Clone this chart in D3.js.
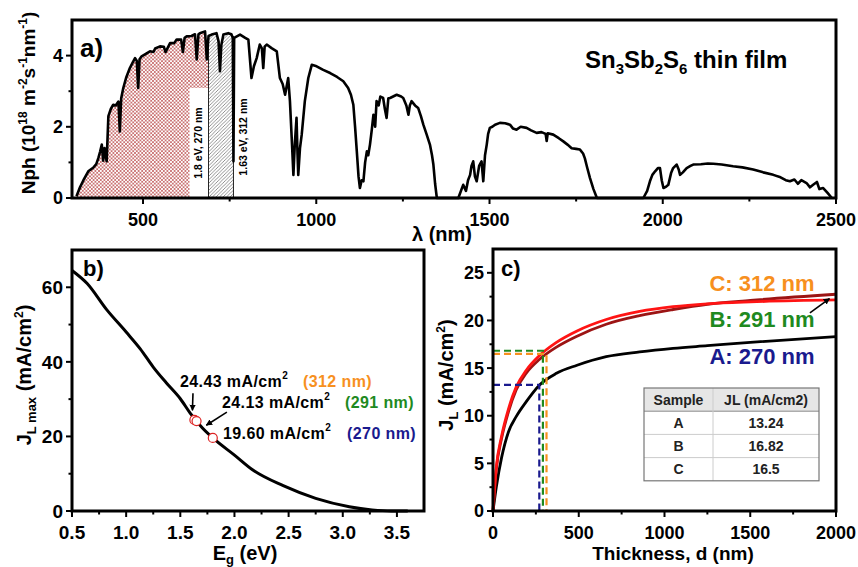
<!DOCTYPE html>
<html>
<head>
<meta charset="utf-8">
<script src="https://cdn.jsdelivr.net/npm/d3@7"></script>
<style>
  body { margin: 0; background: #fff; }
  text { font-family: Arial, "Liberation Sans", sans-serif; font-weight: bold; }
</style>
</head>
<body>
<svg id="chart" width="858" height="567"></svg>
<script>
// a) photon flux of the solar spectrum
const wavelength = [308, 318, 328, 342, 356, 365, 371, 376, 381, 385, 389, 395, 400, 407, 414, 421, 429, 433, 437, 443,
  452, 462, 470, 477, 482, 486, 490, 496, 508, 520, 530, 535, 549, 560, 565, 578, 590, 597, 610, 615,
  620, 626, 640, 650, 655, 660, 664, 679, 684, 689, 698, 712, 718, 722, 726, 732, 746, 755, 759, 761,
  763, 780, 795, 804, 813, 820, 828, 837, 843, 847, 851, 857, 871, 886, 895, 903, 910, 919, 924, 930,
  934, 938, 943, 946, 948, 953, 958, 967, 977, 987, 1001, 1020, 1040, 1060, 1078, 1092, 1100, 1107, 1112, 1117,
  1122, 1126, 1131, 1136, 1141, 1146, 1150, 1155, 1160, 1165, 1170, 1174, 1180, 1185, 1193, 1198, 1203, 1208, 1213, 1232,
  1245, 1251, 1260, 1266, 1270, 1275, 1285, 1294, 1302, 1309, 1318, 1328, 1334, 1338, 1343, 1348, 1410, 1424, 1432, 1438,
  1444, 1448, 1453, 1458, 1463, 1470, 1477, 1482, 1487, 1492, 1496, 1501, 1508, 1516, 1530, 1545, 1559, 1568, 1578, 1590,
  1607, 1620, 1636, 1650, 1662, 1665, 1668, 1684, 1700, 1713, 1725, 1737, 1750, 1761, 1770, 1775, 1782, 1790, 1800, 1810,
  1944, 1955, 1963, 1970, 1978, 1986, 1992, 1997, 2002, 2010, 2016, 2024, 2030, 2040, 2046, 2050, 2058, 2069, 2080, 2088,
  2110, 2130, 2146, 2170, 2203, 2230, 2261, 2290, 2319, 2340, 2355, 2367, 2380, 2390, 2400, 2415, 2425, 2434, 2445, 2452,
  2463, 2475, 2488];
const nph = [0.05, 0.3, 0.5, 0.75, 0.85, 0.95, 1.12, 1.3, 1.5, 1.05, 1.4, 1.03, 2.3, 2.5, 2.62, 2.6, 2.71, 1.87, 2.8, 3.09,
  3.4, 3.65, 3.8, 3.93, 3.85, 3.09, 3.9, 3.98, 4.05, 4.12, 4.1, 4.2, 4.26, 4.25, 4.1, 4.35, 4.35, 4.45, 4.45, 4.1,
  4.5, 4.54, 4.55, 4.6, 3.89, 4.6, 4.63, 4.68, 3.89, 4.55, 4.59, 4.63, 4.4, 3.56, 4.3, 4.59, 4.63, 4.6, 4.5, 1.03,
  4.5, 4.59, 4.5, 4.45, 3.37, 3.7, 3.93, 4.31, 4.2, 3.65, 4.25, 4.31, 4.21, 4.12, 3.37, 3.2, 2.9, 3.37, 2.72, 1.5,
  0.65, 1.5, 2.25, 1.2, 0.65, 1.4, 1.78, 2.72, 3.37, 3.74, 3.7, 3.6, 3.51, 3.4, 3.28, 3.09, 2.9, 2.62, 2.0, 1.31,
  0.6, 0.28, 0.5, 0.47, 1.0, 1.31, 1.2, 1.5, 1.9, 2.34, 2.0, 2.72, 2.6, 2.85, 2.81, 2.5, 2.25, 2.8, 2.81, 2.9,
  2.85, 2.81, 2.6, 2.34, 2.6, 2.72, 2.6, 2.53, 2.3, 2.06, 1.8, 1.5, 1.2, 0.94, 0.4, 0, 0, 0.37, 0.2, 0.5,
  0.65, 0.9, 1.03, 0.6, 0.47, 0.9, 1.03, 0.47, 1.2, 1.5, 1.8, 1.97, 2.0, 2.06, 2.11, 2.1, 2.06, 1.95, 1.92, 2.0,
  1.97, 1.9, 1.83, 1.85, 1.8, 1.6, 1.82, 1.78, 1.68, 1.59, 1.5, 1.4, 1.38, 1.36, 1.25, 1.12, 0.85, 0.56, 0.25, 0,
  0, 0.2, 0.47, 0.65, 0.75, 0.84, 0.84, 0.5, 0.28, 0.32, 0.37, 0.7, 0.84, 0.94, 0.8, 0.65, 0.72, 0.84, 0.9, 0.94,
  0.95, 0.97, 0.96, 0.94, 0.89, 0.86, 0.8, 0.72, 0.65, 0.58, 0.5, 0.47, 0.52, 0.4, 0.5, 0.42, 0.3, 0.37, 0.45, 0.25,
  0.28, 0.15, 0];
const edge270 = 689;   // 1.8 eV
const edge312 = 761;   // 1.63 eV

// b) maximum current vs band gap
const eg = [0.5, 0.64, 0.82, 1.0, 1.13, 1.25, 1.37, 1.5, 1.6, 1.7, 1.8, 2.0, 2.17, 2.45, 2.75, 3.06, 3.27, 3.45, 3.6];
const jmax = [64.5, 61.0, 54.0, 48.0, 43.5, 38.6, 34.4, 30.1, 25.9, 22.4, 19.6, 15.0, 11.0, 6.8, 3.4, 1.16, 0.3, 0, 0];
const markEg = [1.63, 1.65, 1.8];
const markJ = [24.43, 24.13, 19.6];
const markText = ['24.43 mA/cm', '24.13 mA/cm', '19.60 mA/cm'];
const markNm = ['(312 nm)', '(291 nm)', '(270 nm)'];

// c) JL vs thickness
const thickness = [0, 20, 50, 90, 135, 195, 270, 370, 490, 660, 855, 1050, 1250, 1500, 2000];
const jlA = [0, 2.6, 5.6, 8.3, 9.9, 11.5, 13.2, 14.45, 15.3, 16.2, 16.7, 17.07, 17.35, 17.7, 18.3];
const jlB = [0, 4.5, 7.6, 10.4, 12.7, 14.5, 15.9, 17.2, 18.35, 19.6, 20.5, 21.15, 21.7, 22.1, 22.75];
const jlC = [0, 4.7, 7.85, 10.7, 13.0, 14.8, 16.3, 17.7, 18.9, 20.1, 20.95, 21.45, 21.75, 21.95, 22.15];
const samples = ['A', 'B', 'C'];
const sampleNm = [270, 291, 312];
const sampleJL = [13.24, 16.82, 16.5];
const sampleLabel = ['A: 270 nm', 'B: 291 nm', 'C: 312 nm'];

const orange = '#f7901e', green = '#1f8a1f', navy = '#1a1a8e';
const sampleColor = [navy, green, orange];

const svg = d3.select('#chart');
const defs = svg.append('defs');

const cross = defs.append('pattern').attr('id', 'cross')
  .attr('patternUnits', 'userSpaceOnUse').attr('width', 3.6).attr('height', 3.6);
cross.append('path').attr('d', 'M0,0L3.6,3.6M3.6,0L0,3.6').attr('stroke', '#b43a3a').attr('stroke-width', 0.65);

const diag = defs.append('pattern').attr('id', 'diag')
  .attr('patternUnits', 'userSpaceOnUse').attr('width', 3.5).attr('height', 3.5);
diag.append('path').attr('d', 'M0,3.5L3.5,0M-1,1L1,-1M2.5,4.5L4.5,2.5').attr('stroke', '#777').attr('stroke-width', 0.8);

defs.append('marker').attr('id', 'arrow').attr('viewBox', '0 0 10 10')
  .attr('refX', 9).attr('refY', 5).attr('markerWidth', 4).attr('markerHeight', 4)
  .attr('orient', 'auto').append('path').attr('d', 'M0,0L10,5L0,10z').attr('fill', '#000');

// frame with outward ticks on bottom and left
function frame(x, y, xMajor, xMinor, yMajor, yMinor, fx, fy, fs) {
  const [x0, x1] = x.range(), [y0, y1] = y.range();
  const g = svg.append('g');
  g.selectAll('.xt').data(xMajor.concat(xMinor)).enter().append('line')
    .attr('x1', d => x(d)).attr('x2', d => x(d)).attr('y1', y0)
    .attr('y2', d => y0 + (xMajor.includes(d) ? 6 : 3.5)).attr('stroke', '#000').attr('stroke-width', 2);
  g.selectAll('.yt').data(yMajor.concat(yMinor)).enter().append('line')
    .attr('y1', d => y(d)).attr('y2', d => y(d)).attr('x1', x0)
    .attr('x2', d => x0 - (yMajor.includes(d) ? 6 : 3.5)).attr('stroke', '#000').attr('stroke-width', 2);
  g.selectAll('.xl').data(xMajor).enter().append('text')
    .attr('x', d => x(d)).attr('y', y0 + 28).attr('text-anchor', 'middle')
    .attr('font-size', fs).text(fx);
  g.selectAll('.yl').data(yMajor).enter().append('text')
    .attr('x', x0 - 9).attr('y', d => y(d) + fs * 0.36).attr('text-anchor', 'end')
    .attr('font-size', fs).text(fy);
  g.append('rect').attr('x', x0).attr('y', y1).attr('width', x1 - x0).attr('height', y0 - y1)
    .attr('fill', 'none').attr('stroke', '#000').attr('stroke-width', 3);
}

function rich(sel, parts) {
  parts.forEach(p => {
    const t = sel.append('tspan').text(p[0]);
    if (p[1]) t.attr('font-size', p[1]);
    if (p[2]) t.attr('dy', p[2]);
  });
}

// ---------- panel a ----------
const xA = d3.scaleLinear().domain([295, 2500]).range([72, 836]);
const yA = d3.scaleLinear().domain([0, 5]).range([198, 20]);
const spec = wavelength.map((w, i) => ({ w, v: nph[i] }));
const areaA = d3.area().x(d => xA(d.w)).y0(yA(0)).y1(d => yA(d.v));

defs.append('clipPath').attr('id', 'clipRed').append('rect')
  .attr('x', xA(295)).attr('y', yA(5)).attr('width', xA(edge270) - xA(295)).attr('height', yA(0) - yA(5));
defs.append('clipPath').attr('id', 'clipGrey').append('rect')
  .attr('x', xA(edge270)).attr('y', yA(5)).attr('width', xA(edge312) - xA(edge270)).attr('height', yA(0) - yA(5));

svg.append('path').datum(spec).attr('d', areaA).attr('fill', 'url(#cross)').attr('clip-path', 'url(#clipRed)');
svg.append('path').datum(spec).attr('d', areaA).attr('fill', 'url(#diag)').attr('clip-path', 'url(#clipGrey)');

[edge270, edge312].forEach(e => {
  svg.append('line').attr('x1', xA(e)).attr('x2', xA(e)).attr('y1', yA(0)).attr('y2', yA(4.55))
    .attr('stroke', '#222').attr('stroke-width', 1);
});

svg.append('rect').attr('x', xA(edge270) - 19).attr('y', 88).attr('width', 18.5).attr('height', yA(0) - 89)
  .attr('fill', '#fff');
svg.append('text').attr('transform', `translate(${xA(edge270) - 6.5},143) rotate(-90)`)
  .attr('text-anchor', 'middle').attr('font-size', 10.5).attr('font-weight', 'normal')
  .text('1.8 eV, 270 nm');
svg.append('text').attr('transform', `translate(${xA(edge312) + 13.5},137) rotate(-90)`)
  .attr('text-anchor', 'middle').attr('font-size', 10.5).attr('font-weight', 'normal')
  .text('1.63 eV, 312 nm');

svg.append('path').datum(spec)
  .attr('d', d3.line().x(d => xA(d.w)).y(d => yA(d.v)))
  .attr('fill', 'none').attr('stroke', '#000').attr('stroke-width', 2.6).attr('stroke-linejoin', 'round');

frame(xA, yA, [500, 1000, 1500, 2000, 2500], [750, 1250, 1750, 2250], [0, 2, 4], [1, 3],
  d => d, d => d, 18);

svg.append('text').attr('x', 80).attr('y', 57).attr('font-size', 26).text('a)');
rich(svg.append('text').attr('x', 585).attr('y', 68).attr('font-size', 24),
  [['Sn'], ['3', 15, 6], ['Sb', null, -6], ['2', 15, 6], ['S', null, -6], ['6', 15, 6], [' thin film', null, -6]]);
rich(svg.append('text').attr('transform', 'translate(35,103) rotate(-90)').attr('text-anchor', 'middle').attr('font-size', 19),
  [['Nph (10'], ['18', 12, -8], [' m', null, 8], ['-2', 12, -8], ['s', null, 8], ['-1', 12, -8], ['nm', null, 8], ['-1', 12, -8], [')', null, 8]]);
svg.append('text').attr('x', 412).attr('y', 241).attr('font-size', 20).text('λ (nm)');

// ---------- panel b ----------
const xB = d3.scaleLinear().domain([0.5, 3.75]).range([72, 424]);
const yB = d3.scaleLinear().domain([0, 70]).range([511, 250]);

svg.append('path').datum(eg.map((e, i) => [e, jmax[i]]))
  .attr('d', d3.line().x(d => xB(d[0])).y(d => yB(d[1])).curve(d3.curveMonotoneX))
  .attr('fill', 'none').attr('stroke', '#000').attr('stroke-width', 3);

svg.selectAll('.mk').data(markEg).enter().append('circle')
  .attr('cx', d => xB(d)).attr('cy', (d, i) => yB(markJ[i])).attr('r', 4.5)
  .attr('fill', '#fff').attr('stroke', '#d22').attr('stroke-width', 1.2);

// label anchors in data space: [eV, mA/cm2] for text start, second column start
const markPos = [[1.497, 33.3, 2.633], [1.885, 27.6, 3.02], [1.894, 19.3, 3.04]];
markPos.forEach((p, i) => {
  rich(svg.append('text').attr('x', xB(p[0])).attr('y', yB(p[1])).attr('font-size', 16).attr('letter-spacing', 0.4),
    [[markText[i]], ['2', 10, -8]]);
  svg.append('text').attr('x', xB(p[2])).attr('y', yB(p[1])).attr('font-size', 16).attr('letter-spacing', 0.4)
    .attr('fill', sampleColor[2 - i]).text(markNm[i]);
});
const arrowsB = [[[1.617, 31.6], [1.612, 27.0]], [[1.93, 26.5], [1.74, 23.0]]];
arrowsB.forEach(a => {
  svg.append('line').attr('x1', xB(a[0][0])).attr('y1', yB(a[0][1]))
    .attr('x2', xB(a[1][0])).attr('y2', yB(a[1][1]))
    .attr('stroke', '#000').attr('stroke-width', 1.6).attr('marker-end', 'url(#arrow)');
});

frame(xB, yB, [0.5, 1, 1.5, 2, 2.5, 3, 3.5], [0.75, 1.25, 1.75, 2.25, 2.75, 3.25], [0, 20, 40, 60], [10, 30, 50],
  d3.format('.1f'), d => d, 19);

svg.append('text').attr('x', 83).attr('y', 276).attr('font-size', 22).text('b)');
rich(svg.append('text').attr('transform', 'translate(31,375) rotate(-90)').attr('text-anchor', 'middle').attr('font-size', 20),
  [['J'], ['L max', 13, 5], [' (mA/cm', null, -5], ['2', 12, -8], [')', null, 8]]);
rich(svg.append('text').attr('x', 245).attr('y', 560).attr('text-anchor', 'middle').attr('font-size', 20),
  [['E'], ['g', 13, 4], [' (eV)', null, -4]]);

// ---------- panel c ----------
const xC = d3.scaleLinear().domain([0, 2000]).range([493, 836]);
const yC = d3.scaleLinear().domain([0, 27.5]).range([511, 249]);
const lineC = d3.line().x(d => xC(d[0])).y(d => yC(d[1])).curve(d3.curveMonotoneX);

[[jlA, '#000'], [jlB, '#9c1414'], [jlC, '#ff1414']].forEach(s => {
  svg.append('path').datum(thickness.map((t, i) => [t, s[0][i]]))
    .attr('d', lineC).attr('fill', 'none').attr('stroke', s[1]).attr('stroke-width', 2.8);
});

samples.forEach((s, i) => {
  svg.append('path')
    .attr('d', `M${xC(0)},${yC(sampleJL[i])}H${xC(sampleNm[i])}V${yC(0)}`)
    .attr('fill', 'none').attr('stroke', sampleColor[i]).attr('stroke-width', 2.2).attr('stroke-dasharray', '7,4');
});

const labelJ = [15.4, 19.3, 23.1];
samples.forEach((s, i) => {
  svg.append('text').attr('x', xC(1262)).attr('y', yC(labelJ[i])).attr('font-size', 22)
    .attr('fill', sampleColor[i]).text(sampleLabel[i]);
});
svg.append('line').attr('x1', xC(1848)).attr('y1', yC(20.8)).attr('x2', xC(1962)).attr('y2', yC(22.3))
  .attr('stroke', '#000').attr('stroke-width', 1.6).attr('marker-end', 'url(#arrow)');

// inset table
const tbl = svg.append('g').attr('transform', 'translate(644,388)');
const colW = [69, 106], rowH = 23.2;
tbl.append('rect').attr('width', colW[0] + colW[1]).attr('height', rowH).attr('fill', '#e6e6e6');
tbl.append('rect').attr('y', rowH).attr('width', colW[0] + colW[1]).attr('height', rowH * 3).attr('fill', '#fff');
[1, 2, 3].forEach(r => {
  tbl.append('line').attr('x1', 0).attr('x2', colW[0] + colW[1]).attr('y1', r * rowH).attr('y2', r * rowH)
    .attr('stroke', r === 1 ? '#888' : '#ccc').attr('stroke-width', 1);
});
tbl.append('line').attr('x1', colW[0]).attr('x2', colW[0]).attr('y1', 0).attr('y2', rowH * 4)
  .attr('stroke', '#ccc').attr('stroke-width', 1);
tbl.append('rect').attr('width', colW[0] + colW[1]).attr('height', rowH * 4)
  .attr('fill', 'none').attr('stroke', '#777').attr('stroke-width', 1.2);
const rows = [['Sample', 'JL (mA/cm2)']].concat(samples.map((s, i) => [s, String(sampleJL[i])]));
rows.forEach((r, i) => {
  tbl.append('text').attr('x', colW[0] / 2).attr('y', i * rowH + 16.5).attr('text-anchor', 'middle')
    .attr('font-size', 14).attr('fill', '#222').text(r[0]);
  tbl.append('text').attr('x', colW[0] + colW[1] / 2).attr('y', i * rowH + 16.5).attr('text-anchor', 'middle')
    .attr('font-size', 14).attr('fill', '#222').text(r[1]);
});

frame(xC, yC, [0, 500, 1000, 1500, 2000], [250, 750, 1250, 1750], [0, 5, 10, 15, 20, 25],
  [2.5, 7.5, 12.5, 17.5, 22.5], d => d, d => d, 18);

svg.append('text').attr('x', 501).attr('y', 276).attr('font-size', 22).text('c)');
rich(svg.append('text').attr('transform', 'translate(453,375) rotate(-90)').attr('text-anchor', 'middle').attr('font-size', 20),
  [['J'], ['L', 13, 5], [' (mA/cm', null, -5], ['2', 12, -8], [')', null, 8]]);
svg.append('text').attr('x', 673).attr('y', 560).attr('text-anchor', 'middle').attr('font-size', 19)
  .text('Thickness, d (nm)');
</script>
</body>
</html>
